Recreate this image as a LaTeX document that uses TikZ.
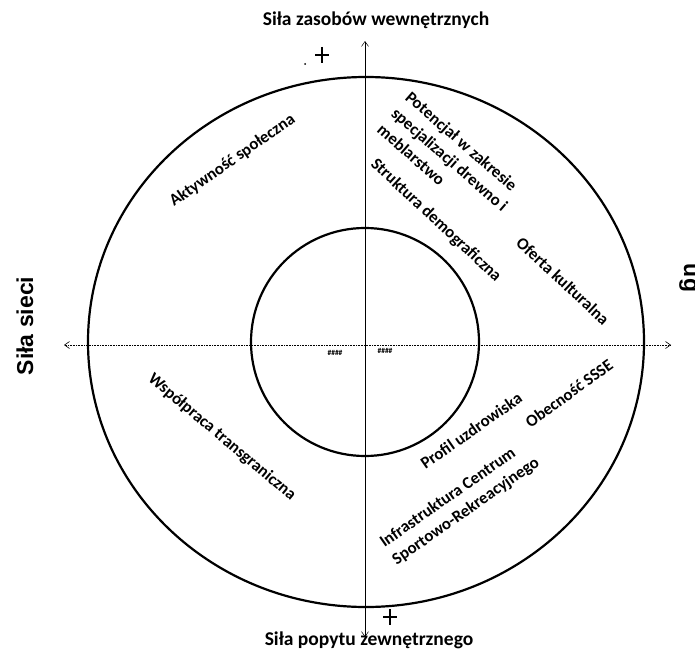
\documentclass[tikz,border=0pt]{standalone}
\usepackage{fontspec}
\setmainfont{Carlito}
\newfontfamily\arialfont{Liberation Sans}
\usetikzlibrary{arrows.meta,calc}
\tikzset{
  lbl/.style={font=\bfseries\fontsize{16.8}{21.5}\selectfont, inner sep=0pt, align=left},
  ttl/.style={font=\bfseries\fontsize{19.5}{22}\selectfont, inner sep=0pt},
  axisline/.style={line width=0.6pt, densely dotted, {Straight Barb[length=5pt,width=7pt]}-{Straight Barb[length=5pt,width=7pt]}},
  ring/.style={line width=2.2pt},
  plusmark/.style={line width=1.3pt},
  blob/.style={font=\bfseries\fontsize{7.5}{8}\selectfont, inner sep=0pt}
}
\begin{document}
\begin{tikzpicture}[x=1pt,y=-1pt]
\useasboundingbox (0,0) rectangle (695,658);
% circles
\draw[ring] (366,342) ellipse [x radius=278, y radius=265];
\draw[ring] (365,342) circle [radius=114];
% axes
\coordinate (L) at (64,345);
\coordinate (R) at (671,345);
\coordinate (T) at (365,41);
\coordinate (B) at (365,637);
\draw[axisline] (L) -- (R);
\draw[axisline, solid, line width=0.5pt] (B) -- (T);
% plus marks
\coordinate (p1) at (322,55);
\draw[plusmark] ($(p1)+(-7,0)$) -- ($(p1)+(7,0)$);
\draw[plusmark] ($(p1)+(0,-8)$) -- ($(p1)+(0,8)$);
\coordinate (p2) at (390,617);
\draw[plusmark] ($(p2)+(-7,0)$) -- ($(p2)+(7,0)$);
\draw[plusmark] ($(p2)+(0,-8)$) -- ($(p2)+(0,8)$);
\fill (305,64) circle [radius=1];
% titles
\node[ttl] (top) at (376,20) {Siła zasobów wewnętrznych};
\node[ttl] (bot) at (369,640) {Siła popytu zewnętrznego};
\node[font=\arialfont\bfseries\fontsize{23}{26}\selectfont, rotate=90, inner sep=0pt] (left) at (25,326) {Siła sieci};
\node[font=\arialfont\bfseries\fontsize{23}{26}\selectfont, rotate=-90, inner sep=0pt, anchor=base] (right) at (684,278) {ug};
% center marks
\node[blob] (m1) at (335,353) {\#\#\#\#};
\node[blob] (m2) at (385,351) {\#\#\#\#};
% labels
\node[lbl, rotate=35, anchor=base west] (a1) at (174,207) {Aktywność społeczna};
\node[lbl, rotate=-41, anchor=west] (a2) at (394,111) {Potencjał w zakresie\\specjalizacji drewno i\\meblarstwo};
\node[lbl, rotate=-43, anchor=west] (a3) at (373,162) {Struktura demograficzna};
\node[lbl, rotate=-43, anchor=west] (a4) at (519,240) {Oferta kulturalna};
\node[lbl, rotate=-40, anchor=west] (a5) at (150,377) {Współpraca transgraniczna};
\node[lbl, rotate=35, anchor=west] (a6) at (422,465) {Profil uzdrowiska};
\node[lbl, rotate=36, anchor=west] (a7) at (527,424) {Obecność SSSE};
\node[lbl, rotate=35, anchor=west] (a8) at (388,553) {Infrastruktura Centrum\\Sportowo-Rekreacyjnego};
\end{tikzpicture}
\end{document}
